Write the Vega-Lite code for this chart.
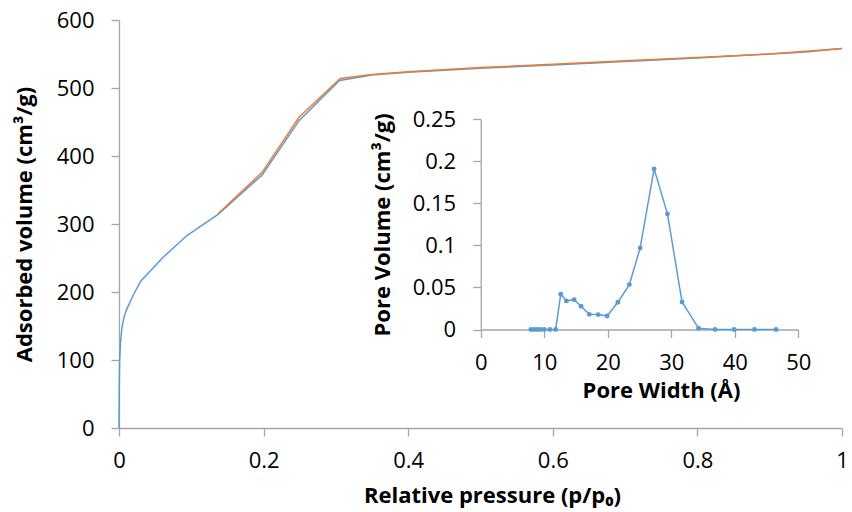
{
  "$schema": "https://vega.github.io/schema/vega-lite/v6.json",
  "width": 723,
  "height": 408,
  "autosize": "none",
  "padding": {"left": 119, "top": 20, "right": 10, "bottom": 84},
  "background": "white",
  "config": {
    "view": {"stroke": null},
    "font": "Open Sans",
    "axis": {
      "grid": false,
      "domainColor": "#a6a6a6",
      "tickColor": "#a6a6a6",
      "domainWidth": 1.3,
      "tickWidth": 1.3,
      "tickSize": 8,
      "labelFont": "Open Sans",
      "labelFontSize": 22,
      "labelColor": "#000000",
      "labelFlush": false,
      "labelOverlap": false,
      "titleFont": "Open Sans",
      "titleFontSize": 22,
      "titleFontWeight": "bold",
      "titleColor": "#000000"
    }
  },
  "datasets": {
    "isotherm": [
      {"p": 0.0, "v": 0, "branch": "Adsorption"},
      {"p": 0.0003, "v": 55, "branch": "Adsorption"},
      {"p": 0.0008, "v": 95, "branch": "Adsorption"},
      {"p": 0.002, "v": 125, "branch": "Adsorption"},
      {"p": 0.004, "v": 147, "branch": "Adsorption"},
      {"p": 0.007, "v": 163, "branch": "Adsorption"},
      {"p": 0.01, "v": 173, "branch": "Adsorption"},
      {"p": 0.02, "v": 196, "branch": "Adsorption"},
      {"p": 0.03, "v": 216, "branch": "Adsorption"},
      {"p": 0.061, "v": 251, "branch": "Adsorption"},
      {"p": 0.094, "v": 283, "branch": "Adsorption"},
      {"p": 0.137, "v": 314, "branch": "Adsorption"},
      {"p": 0.198, "v": 372, "branch": "Adsorption"},
      {"p": 0.249, "v": 452, "branch": "Adsorption"},
      {"p": 0.305, "v": 511, "branch": "Adsorption"},
      {"p": 0.35, "v": 519, "branch": "Adsorption"},
      {"p": 0.4, "v": 523, "branch": "Adsorption"},
      {"p": 0.5, "v": 529, "branch": "Adsorption"},
      {"p": 0.6, "v": 534, "branch": "Adsorption"},
      {"p": 0.7, "v": 539, "branch": "Adsorption"},
      {"p": 0.8, "v": 544, "branch": "Adsorption"},
      {"p": 0.9, "v": 550, "branch": "Adsorption"},
      {"p": 0.95, "v": 553, "branch": "Adsorption"},
      {"p": 1.0, "v": 558, "branch": "Adsorption"},
      {"p": 0.137, "v": 315, "branch": "Desorption"},
      {"p": 0.198, "v": 376, "branch": "Desorption"},
      {"p": 0.249, "v": 457, "branch": "Desorption"},
      {"p": 0.306, "v": 514, "branch": "Desorption"},
      {"p": 0.35, "v": 520, "branch": "Desorption"},
      {"p": 0.4, "v": 524, "branch": "Desorption"},
      {"p": 0.5, "v": 530, "branch": "Desorption"},
      {"p": 0.6, "v": 535, "branch": "Desorption"},
      {"p": 0.7, "v": 540, "branch": "Desorption"},
      {"p": 0.8, "v": 545, "branch": "Desorption"},
      {"p": 0.9, "v": 550, "branch": "Desorption"},
      {"p": 0.95, "v": 554, "branch": "Desorption"},
      {"p": 1.0, "v": 558, "branch": "Desorption"}
    ],
    "psd": [
      {"w": 7.9, "pv": 0},
      {"w": 8.4, "pv": 0},
      {"w": 8.9, "pv": 0},
      {"w": 9.4, "pv": 0},
      {"w": 10.0, "pv": 0},
      {"w": 10.9, "pv": 0},
      {"w": 11.8, "pv": 0},
      {"w": 12.6, "pv": 0.042},
      {"w": 13.5, "pv": 0.034},
      {"w": 14.7, "pv": 0.0355},
      {"w": 15.8, "pv": 0.0276},
      {"w": 17.1, "pv": 0.018},
      {"w": 18.5, "pv": 0.0177},
      {"w": 19.9, "pv": 0.016},
      {"w": 21.6, "pv": 0.0324},
      {"w": 23.4, "pv": 0.0534},
      {"w": 25.1, "pv": 0.097},
      {"w": 27.3, "pv": 0.191},
      {"w": 29.4, "pv": 0.1375},
      {"w": 31.7, "pv": 0.0327},
      {"w": 34.3, "pv": 0.0014},
      {"w": 36.9, "pv": 0},
      {"w": 39.9, "pv": 0},
      {"w": 43.1, "pv": 0},
      {"w": 46.5, "pv": 0}
    ]
  },
  "layer": [
    {
      "data": {"name": "isotherm"},
      "encoding": {
        "x": {
          "field": "p", "type": "quantitative",
          "scale": {"domain": [0, 1], "nice": false},
          "axis": {"orient": "bottom", "values": [0, 0.2, 0.4, 0.6, 0.8, 1], "format": "~g", "labelPadding": 14, "title": "Relative pressure (p/p₀)", "titlePadding": 14, "titleX": 373}
        },
        "y": {
          "field": "v", "type": "quantitative",
          "scale": {"domain": [0, 600], "nice": false},
          "axis": {"orient": "left", "values": [0, 100, 200, 300, 400, 500, 600], "labelPadding": 17, "title": "Adsorbed volume (cm³/g)", "titlePadding": 20}
        }
      },
      "layer": [
        {
          "transform": [{"filter": "datum.branch === 'Adsorption'"}],
          "mark": {"type": "line", "color": "#5b9bd5", "strokeWidth": 1.5}
        },
        {
          "transform": [{"filter": "datum.branch === 'Desorption'"}],
          "mark": {"type": "line", "color": "#ed7d31", "strokeWidth": 1.5}
        }
      ]
    },
    {
      "data": {"name": "psd"},
      "encoding": {
        "x": {
          "field": "w", "type": "quantitative",
          "scale": {"domain": [0, 50], "nice": false, "range": [361.7, 679.3]},
          "axis": {"orient": "bottom", "offset": -98.5, "values": [0, 10, 20, 30, 40, 50], "labelPadding": 15, "title": "Pore Width (Å)", "titlePadding": 7, "titleX": 542}
        },
        "y": {
          "field": "pv", "type": "quantitative",
          "scale": {"domain": [0, 0.25], "nice": false, "range": [309.5, 99.3]},
          "axis": {"orient": "left", "offset": -361.7, "values": [0, 0.05, 0.1, 0.15, 0.2, 0.25], "format": "~g", "labelPadding": 17, "title": "Pore Volume (cm³/g)", "titlePadding": 18}
        }
      },
      "layer": [
        {"mark": {"type": "line", "color": "#5b9bd5", "strokeWidth": 1.5}},
        {"mark": {"type": "point", "filled": true, "color": "#5b9bd5", "size": 24, "opacity": 1}}
      ]
    }
  ],
  "resolve": {
    "scale": {"x": "independent", "y": "independent"},
    "axis": {"x": "independent", "y": "independent"}
  }
}
